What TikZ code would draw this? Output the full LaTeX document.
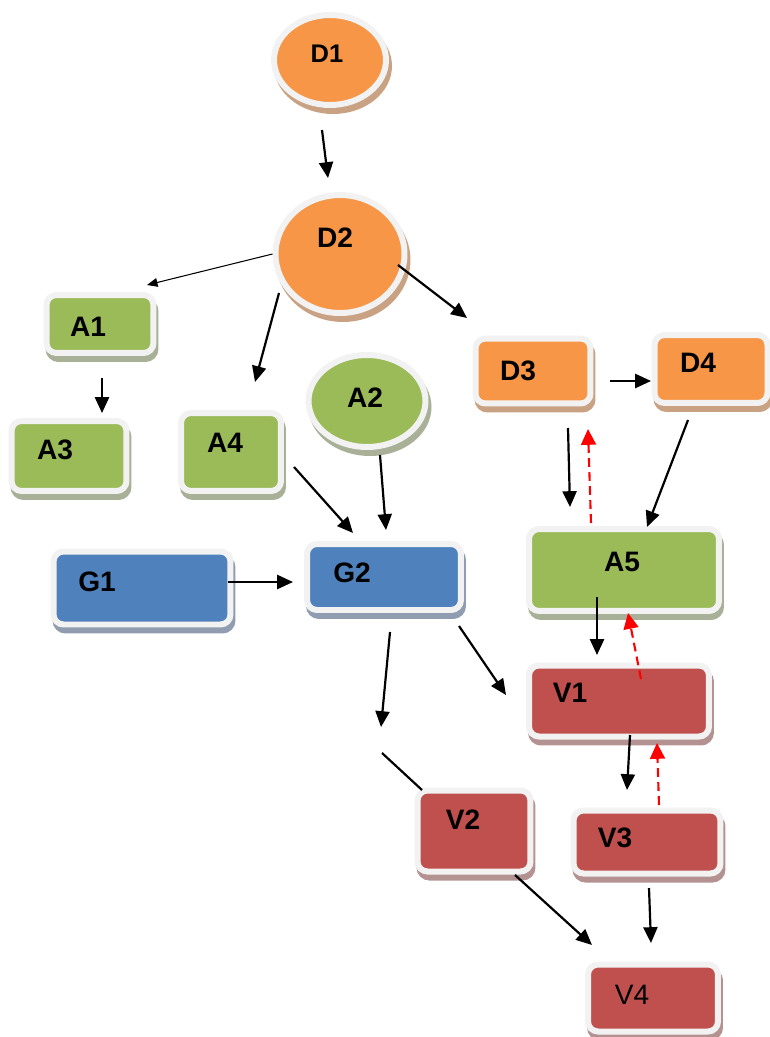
\documentclass[tikz,border=0pt]{standalone}
\usepackage{fontspec}
\setmainfont{Liberation Sans}
\usepackage{tikz}
\usetikzlibrary{arrows.meta,shapes.geometric,shadows}
\definecolor{DOrange}{HTML}{F79646}
\definecolor{DShade}{HTML}{C9A283}
\definecolor{AGreen}{HTML}{9BBB59}
\definecolor{AShade}{HTML}{A8B197}
\definecolor{GBlue}{HTML}{4F81BD}
\definecolor{GShade}{HTML}{909DB0}
\definecolor{VRed}{HTML}{C0504D}
\definecolor{VShade}{HTML}{B59292}
\definecolor{RingGray}{HTML}{F2F2F2}
\tikzset{
  tile/.style 2 args={rectangle, rounded corners=0.2cm, draw=RingGray, line width=0.12cm, fill=#1,
    general shadow={fill=#2, draw=#2, line width=0.12cm, shadow xshift=0.04cm, shadow yshift=-0.12cm}},
  disc/.style 2 args={ellipse, draw=RingGray, line width=0.12cm, fill=#1,
    general shadow={fill=#2, draw=#2, line width=0.12cm, shadow xshift=0.06cm, shadow yshift=-0.12cm}},
  lab/.style={font=\fontsize{16}{19}\selectfont\bfseries},
  arr/.style={line width=1.25pt, -{Triangle[length=9pt,width=8pt]}},
  thinarr/.style={line width=0.6pt, -{Triangle[length=6pt,width=5pt]}},
  back/.style={red, line width=1.2pt, dash pattern=on 5pt off 3pt, -{Triangle[length=9pt,width=8.5pt]}}
}

\begin{document}
\begin{tikzpicture}[x=0.02cm, y=-0.02cm]
\useasboundingbox (0,0) rectangle (770,1037);
\node[disc={DOrange}{DShade}, minimum width=2.24cm, minimum height=1.8cm,
  label={[lab, font=\fontsize{14.5}{17}\selectfont\bfseries, xshift=-0.06cm, yshift=0.12cm]center:D1}] (D1) at (330,60) {};
\node[disc={DOrange}{DShade}, minimum width=2.58cm, minimum height=2.36cm,
  label={[lab, xshift=-0.1cm, yshift=0.32cm]center:D2}] (D2) at (340,254) {};
\node[disc={AGreen}{AShade}, minimum width=2.34cm, minimum height=1.84cm,
  label={[lab, xshift=-0.04cm, yshift=0.06cm]center:A2}] (A2) at (367,401) {};
\node[tile={DOrange}{DShade}, minimum width=2.3cm, minimum height=1.3cm,
  label={[lab, xshift=-0.3cm]center:D3}] (D3) at (533,371) {};
\node[tile={DOrange}{DShade}, minimum width=2.26cm, minimum height=1.36cm,
  label={[lab, xshift=-0.26cm, yshift=0.12cm]center:D4}] (D4) at (711,369) {};
\node[tile={AGreen}{AShade}, minimum width=2.14cm, minimum height=1.16cm,
  label={[lab, xshift=-0.24cm, yshift=-0.06cm]center:A1}] (A1) at (100,324) {};
\node[tile={AGreen}{AShade}, minimum width=2.3cm, minimum height=1.4cm,
  label={[lab, xshift=-0.28cm, yshift=0.12cm]center:A3}] (A3) at (69,456) {};
\node[tile={AGreen}{AShade}, minimum width=2.0cm, minimum height=1.56cm,
  label={[lab, xshift=-0.12cm, yshift=0.18cm]center:A4}] (A4) at (231,452) {};
\node[tile={GBlue}{GShade}, minimum width=3.54cm, minimum height=1.46cm,
  label={[lab, xshift=-0.9cm, yshift=0.12cm]center:G1}] (G1) at (142,588) {};
\node[tile={GBlue}{GShade}, minimum width=3.08cm, minimum height=1.32cm,
  label={[lab, xshift=-0.64cm, yshift=0.08cm]center:G2}] (G2) at (384,577) {};
\node[tile={AGreen}{AShade}, minimum width=3.8cm, minimum height=1.64cm,
  label={[lab, xshift=-0.04cm, yshift=0.16cm]center:A5}] (A5) at (624,570) {};
\node[tile={VRed}{VShade}, minimum width=3.6cm, minimum height=1.42cm,
  label={[lab, xshift=-0.98cm, yshift=0.16cm]center:V1}] (V1) at (619,701) {};
\node[tile={VRed}{VShade}, minimum width=2.26cm, minimum height=1.62cm,
  label={[lab, xshift=-0.22cm, yshift=0.22cm]center:V2}] (V2) at (474,831) {};
\node[tile={VRed}{VShade}, minimum width=2.94cm, minimum height=1.26cm,
  label={[lab, xshift=-0.64cm, yshift=0.08cm]center:V3}] (V3) at (647,842) {};
\node[tile={VRed}{VShade}, minimum width=2.6cm, minimum height=1.34cm,
  label={[lab, font=\fontsize{16}{19}\selectfont, xshift=-0.42cm, yshift=0.06cm]center:V4}] (V4) at (653,998) {};

\foreach \n/\x/\y in {d1o/322/130, d2i/328/178, a1i/147/285, d2a/279/293, a4i/255/382,
  d2b/398/265, d3i/467/318, a1o/102/378, a3i/102/413, a4o/294/467, g2a/353/533,
  a2o/380/455, g2b/386/530, g1o/228/582, g2c/293/582, d3o/610/381, d4i/651/381,
  d3d/568/428, a5a/570/507, a5u/591/523, d3u/588/429, d4o/688/420, a5b/647/527,
  a5o/597/597, v1i/597/655, v1u/641/679, a5d/628/613, g2o/390/632, g2e/381/727,
  g2d/459/626, v1a/506/695, g2f/382/753, v2i/422/790, v1o/630/735, v3i/627/790,
  v3u/659/805, v1d/657/743, v3o/649/888, v4a/651/943, v2o/515/875, v4b/592/945}
  \coordinate (\n) at (\x,\y);

\foreach \a/\b in {d1o/d2i, d2a/a4i, d2b/d3i, a1o/a3i, a4o/g2a, a2o/g2b, g1o/g2c, d3o/d4i,
  d3d/a5a, d4o/a5b, a5o/v1i, g2o/g2e, g2d/v1a, v1o/v3i, v3o/v4a, v2o/v4b}
  \draw[arr] (\a) -- (\b);
\draw[thinarr] (D2.west) -- (a1i);
\draw[line width=1.25pt] (g2f) -- (v2i);
\foreach \a/\b in {a5u/d3u, v1u/a5d, v3u/v1d}
  \draw[back] (\a) -- (\b);
\end{tikzpicture}
\end{document}
